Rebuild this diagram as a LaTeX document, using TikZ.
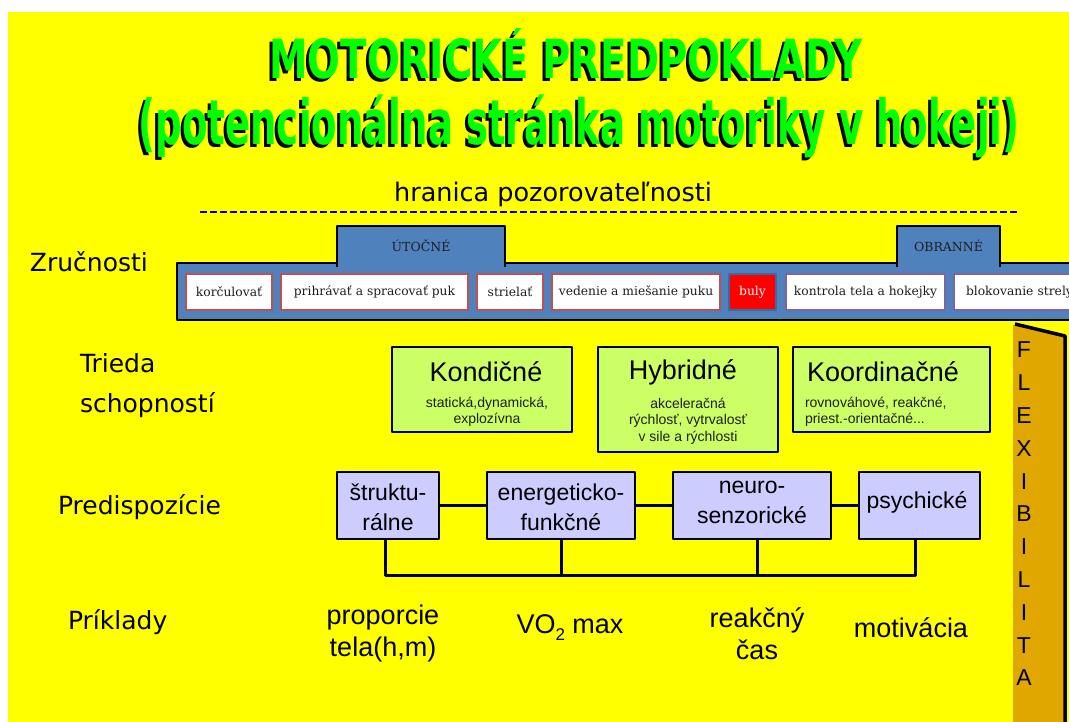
\documentclass[tikz,border=0pt]{standalone}
\usepackage{fontspec}
\usepackage{graphicx}
\setmainfont{Liberation Sans}
\newfontfamily\comicfont{DejaVu Sans}
\newfontfamily\headfont{DejaVu Sans}
\newfontfamily\slabfont{DejaVu Serif}
\definecolor{bgyellow}{HTML}{FFFF00}
\definecolor{titlegreen}{HTML}{00FF00}
\definecolor{barblue}{HTML}{4F81BD}
\definecolor{bulyblue}{HTML}{3B6AA0}
\definecolor{skillred}{HTML}{C0504D}
\definecolor{skillpurple}{HTML}{8064A2}
\definecolor{abilgreen}{HTML}{CCFF66}
\definecolor{predlav}{HTML}{CCCCFF}
\definecolor{flexorange}{HTML}{DFA700}
\definecolor{darktext}{HTML}{1E1E1E}
% green headline lettering (already scaled box) with a black drop shadow down-left
\newcommand{\shadowline}[1]{\rlap{\kern-3pt\raisebox{-3pt}{\color{black}#1}}{\color{titlegreen}#1}}
\begin{document}
\begin{tikzpicture}[x=1pt,y=-1pt,line join=round,
  every node/.style={inner sep=0pt,outer sep=0pt},
  rowlabel/.style={anchor=west,align=left,font=\comicfont\fontsize{25}{40}\selectfont},
  skill/.style={draw=skillred,line width=2.5pt,fill=white,minimum height=36pt,anchor=west,
    text=darktext,font=\slabfont\fontsize{12.3}{14}\selectfont},
  defskill/.style={skill,draw=skillpurple},
  tabbox/.style={fill=barblue,anchor=north west,minimum height=39pt,
    text=darktext,font=\slabfont\fontsize{12.5}{14}\selectfont},
  abilbox/.style={draw=black,line width=2.5pt,fill=abilgreen,anchor=north west},
  abiltitle/.style={font=\fontsize{27}{30}\selectfont},
  abilsub/.style={font=\fontsize{14}{16.5}\selectfont,text=darktext},
  predbox/.style={draw=black,line width=2.5pt,fill=predlav,anchor=north west,minimum height=67pt},
  predtext/.style={align=center,font=\fontsize{23}{30}\selectfont},
  conn/.style={line width=3pt},
  example/.style={align=center,font=\fontsize{27}{32}\selectfont}]
\useasboundingbox (0,0) rectangle (1069,722);
\clip (0,0) rectangle (1069,722);
\fill[white] (0,0) rectangle (1069,722);
\fill[bgyellow] (8,12) rectangle (1080,730);

% headline
\node (t1) at (566,55) {\shadowline{\resizebox{593pt}{50pt}{\headfont\bfseries MOTORICKÉ PREDPOKLADY}}};
\node (t2) at (579,128) {\shadowline{\resizebox*{881pt}{63pt}{\headfont\bfseries (potencionálna stránka motoriky v hokeji)}}};

% observability boundary
\node[font=\comicfont\fontsize{25.5}{28}\selectfont] (hran) at (553,194) {hranica pozorovateľnosti};
\coordinate (dl) at (200,212);
\coordinate (dr) at (1020,212);
\draw[line width=1.6pt,dash pattern=on 7pt off 3pt] (dl) -- (dr);

% row labels
\node[rowlabel] (lz) at (30,262) {Zručnosti};
\node[rowlabel] (lt) at (80,386) {Trieda\\schopností};
\node[rowlabel] (lp) at (58,507) {Predispozície};
\node[rowlabel] (lr) at (68,622) {Príklady};

% skills bar
\node[draw=black,line width=2.5pt,fill=barblue,minimum width=910pt,minimum height=57pt,anchor=north west] (bar) at (177,263) {};
\node[tabbox,minimum width=168pt] (utoc) at (337,226) {ÚTOČNÉ};
\draw[line width=2pt] ([yshift=-2pt]utoc.south west) -- (utoc.north west) -- (utoc.north east) -- ([yshift=-2pt]utoc.south east);
\node[tabbox,minimum width=103pt] (obr) at (897,226) {OBRANNÉ};
\draw[line width=2pt] ([yshift=-2pt]obr.south west) -- (obr.north west) -- (obr.north east) -- ([yshift=-2pt]obr.south east);

\node[skill,minimum width=86pt] (k1) at (186,292) {korčulovať};
\node[skill,minimum width=187pt] (k2) at (281,292) {prihrávať a spracovať puk};
\node[skill,minimum width=66pt] (k3) at (477,292) {strielať};
\node[skill,minimum width=168pt] (k4) at (552,292) {vedenie a miešanie puku};
\node[skill,draw=bulyblue,fill=red,text=white,minimum width=47pt] (k5) at (729,292) {buly};
\node[defskill,minimum width=159pt] (k6) at (786,292) {kontrola tela a hokejky};
\node[defskill,minimum width=140pt,text width=134pt,align=left] (k7) at (954,292) {\hspace*{9pt}blokovanie strely};

% ability classes
\node[abilbox,minimum width=180pt,minimum height=85pt] (a1) at (392,347) {};
\node[abiltitle] (a1t) at (486,372) {Kondičné};
\node[abilsub,align=center] (a1s) at (487,412) {statická,dynamická,\\explozívna};
\node[abilbox,minimum width=180pt,minimum height=105pt] (a2) at (598,347) {};
\node[abiltitle] (a2t) at (683,372) {Hybridné};
\node[abilsub,align=center] (a2s) at (688,421) {akceleračná\\rýchlosť, vytrvalosť\\v sile a rýchlosti};
\node[abilbox,minimum width=197pt,minimum height=85pt] (a3) at (793,347) {};
\node[abiltitle] (a3t) at (883,372) {Koordinačné};
\node[abilsub,align=left,anchor=west] (a3s) at (805,412) {rovnováhové, reakčné,\\priest.-orientačné...};

% predispositions
\node[predbox,minimum width=102pt] (s1) at (337,472) {};
\node[predtext] (s1t) at (388,507) {štruktu-\\rálne};
\node[predbox,minimum width=148pt] (s2) at (487,472) {};
\node[predtext] (s2t) at (561,507) {energeticko-\\funkčné};
\node[predbox,minimum width=158pt] (s3) at (673,472) {};
\node[predtext] (s3t) at (752,502) {neuro-\\senzorické};
\node[predbox,minimum width=121pt] (s4) at (859,472) {};
\node[predtext] (s4t) at (917,502) {psychické};

\draw[conn] (s1.east) -- (s2.west);
\draw[conn] (s2.east) -- (s3.west);
\draw[conn] (s3.east) -- (s4.west);
\coordinate (bus) at (0,575);
\draw[conn] ([xshift=-3pt]s1.south) -- ([xshift=-3pt]s1.south |- bus) -- ([xshift=-4pt]s4.south |- bus) -- ([xshift=-4pt]s4.south);
\draw[conn] (s2.south) -- (s2.south |- bus);
\draw[conn] ([xshift=5pt]s3.south) -- ([xshift=5pt]s3.south |- bus);

% examples
\node[example] (e1) at (383,634) {proporcie\\tela(h,m)};
\node[example] (e2) at (570,628) {VO{\fontsize{17}{17}\selectfont\raisebox{-7pt}{2}} max};
\node[example] (e3) at (757,634) {reakčný\\čas};
\node[example] (e4) at (911,628) {motivácia};

% flexibility column
\fill[flexorange] (1013,325) -- (1064,337) -- (1064,730) -- (1013,730) -- cycle;
\draw[line width=3.5pt] (1015,324) -- (1065,336) -- (1065,730);
\node[align=center,font=\fontsize{23}{32.8}\selectfont] (flex) at (1024,514) {F\\L\\E\\X\\I\\B\\I\\L\\I\\T\\A};
\end{tikzpicture}
\end{document}
